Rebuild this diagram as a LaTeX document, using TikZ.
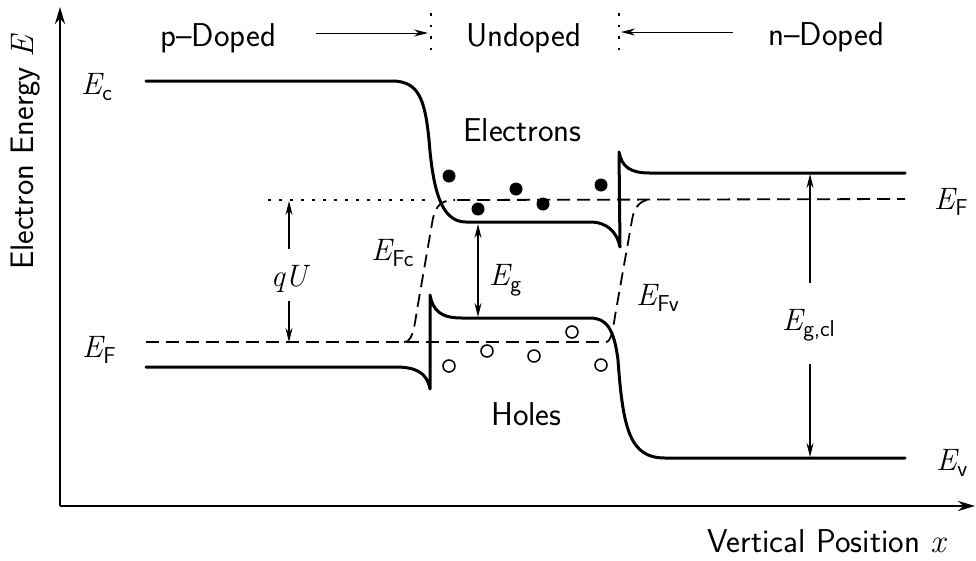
\documentclass[tikz,border=0pt]{standalone}
\usetikzlibrary{arrows.meta}
\newcommand\ital[1]{{\rmfamily\itshape #1}}
\newcommand\Esub[1]{\ital{E}\kern0.5pt\raisebox{-6pt}{\sffamily\fontsize{23}{27}\selectfont #1}}
\tikzset{
  band/.style={line width=3pt, line join=round, line cap=round},
  axis/.style={line width=2.4pt, -{Stealth[length=17pt,width=10pt]}},
  fermi/.style={line width=1.8pt, dash pattern=on 13pt off 7pt},
  dotline/.style={line width=1.8pt, dash pattern=on 2.5pt off 8.5pt},
  vdots/.style={line width=2pt, dash pattern=on 2.5pt off 9pt},
  dimarrow/.style={line width=1.3pt, -{Stealth[length=14pt,width=7pt]}},
  toparrow/.style={line width=1pt, -{Stealth[length=14pt,width=7pt]}},
  lbl/.style={inner sep=0pt, font=\sffamily\fontsize{33}{39}\selectfont, anchor=base west},
  sym/.style={inner sep=0pt, font=\sffamily\fontsize{31}{37}\selectfont, anchor=base west},
  elec/.style={circle, fill, inner sep=0pt, minimum size=13pt},
  hole/.style={circle, draw, line width=1.5pt, inner sep=0pt, minimum size=12pt},
}
\begin{document}
\begin{tikzpicture}[x=1pt,y=-1pt]
\useasboundingbox (0,0) rectangle (976,560);
% axes
\coordinate (O) at (60,506);
\coordinate (ytip) at (60,7);
\coordinate (xtip) at (975,506);
\draw[axis] (O) -- (ytip);
\draw[axis] (O) -- (xtip);
\node[lbl, rotate=90, font=\sffamily\fontsize{32.5}{39}\selectfont] (ylab) at (33,270) {Electron Energy \ital{E}};
\node[lbl] (xlab) at (707,552) {Vertical Position \ital{x}};
% top region labels
\node[lbl] (pd) at (160,46) {p--Doped};
\node[lbl] (ud) at (466,46) {Undoped};
\node[lbl] (nd) at (768,45) {n--Doped};
\coordinate (pa1) at (316,33); \coordinate (pa2) at (428,33);
\coordinate (na1) at (733,32); \coordinate (na2) at (621,32);
\draw[toparrow] (pa1) -- (pa2);
\draw[toparrow] (na1) -- (na2);
\coordinate (d1t) at (431,13); \coordinate (d1b) at (431,58);
\coordinate (d2t) at (619,13); \coordinate (d2b) at (619,58);
\draw[vdots] (d1t) -- (d1b);
\draw[vdots] (d2t) -- (d2b);
% conduction band
\draw[band] (146,81) -- (392,81) .. controls (419,81) and (425,100) .. (429,140)
  .. controls (433,190) and (441,222) .. (466,222) -- (590,222)
  .. controls (607,222) and (617,232) .. (620,247) -- (619,152)
  .. controls (622,167) and (630,173) .. (650,173) -- (905,173);
% valence band
\draw[band] (146,367) -- (395,367) .. controls (415,367) and (427,372) .. (430,389) -- (430,295)
  .. controls (433,311) and (441,318) .. (462,318) -- (590,318)
  .. controls (606,318) and (614,328) .. (618,360)
  .. controls (623,430) and (630,458) .. (665,458) -- (905,458);
% Fermi levels
\draw[fermi] (146,342) -- (606,342);
\draw[fermi] (457,200) -- (905,199);
\draw[fermi] (404,342) .. controls (412,342) and (414,330) .. (417,310) -- (433,218)
  .. controls (436,206) and (441,200) .. (455,200);
\draw[fermi] (606,342) .. controls (611,342) and (613,330) .. (615,316) -- (632,220)
  .. controls (634,207) and (640,200) .. (652,199);
\draw[dotline] (268,200) -- (428,200);
% carriers
\node[elec] (e1) at (449,176) {};
\node[elec] (e2) at (478,209) {};
\node[elec] (e3) at (516,189) {};
\node[elec] (e4) at (543,204) {};
\node[elec] (e5) at (601,185) {};
\node[hole] (h1) at (449,366) {};
\node[hole] (h2) at (487,351) {};
\node[hole] (h3) at (534,356) {};
\node[hole] (h4) at (572,332) {};
\node[hole] (h5) at (601,365) {};
\node[lbl] (el) at (463,141) {Electrons};
\node[lbl] (ho) at (491,425) {Holes};
% energy labels
\node[sym] (Ec) at (81,94) {\Esub{c}};
\node[sym] (EFl) at (82,357) {\Esub{F}};
\node[sym] (EFr) at (934,209) {\Esub{F}};
\node[sym] (Ev) at (936,470) {\Esub{v}};
\node[sym] (EFc) at (371,260) {\Esub{Fc}};
\node[sym] (EFv) at (636,305) {\Esub{Fv}};
\node[sym] (Eg) at (489,285) {\Esub{g}};
\node[sym] (Egcl) at (782,330) {\Esub{g,cl}};
\node[sym, anchor=base] (qU) at (289,286) {\ital{qU}};
% dimension arrows
\coordinate (qUt) at (289,201); \coordinate (qUa) at (289,249);
\coordinate (qUb) at (289,342); \coordinate (qUc) at (289,301);
\draw[dimarrow] (qUa) -- (qUt);
\draw[dimarrow] (qUc) -- (qUb);
\coordinate (Egt) at (478,224); \coordinate (Egb) at (478,317);
\draw[dimarrow, {Stealth[length=14pt,width=7pt]}-{Stealth[length=14pt,width=7pt]}] (Egt) -- (Egb);
\coordinate (Gt) at (810,174); \coordinate (Ga) at (810,283);
\coordinate (Gb) at (810,457); \coordinate (Gc) at (810,364);
\draw[dimarrow] (Ga) -- (Gt);
\draw[dimarrow] (Gc) -- (Gb);
\end{tikzpicture}
\end{document}
